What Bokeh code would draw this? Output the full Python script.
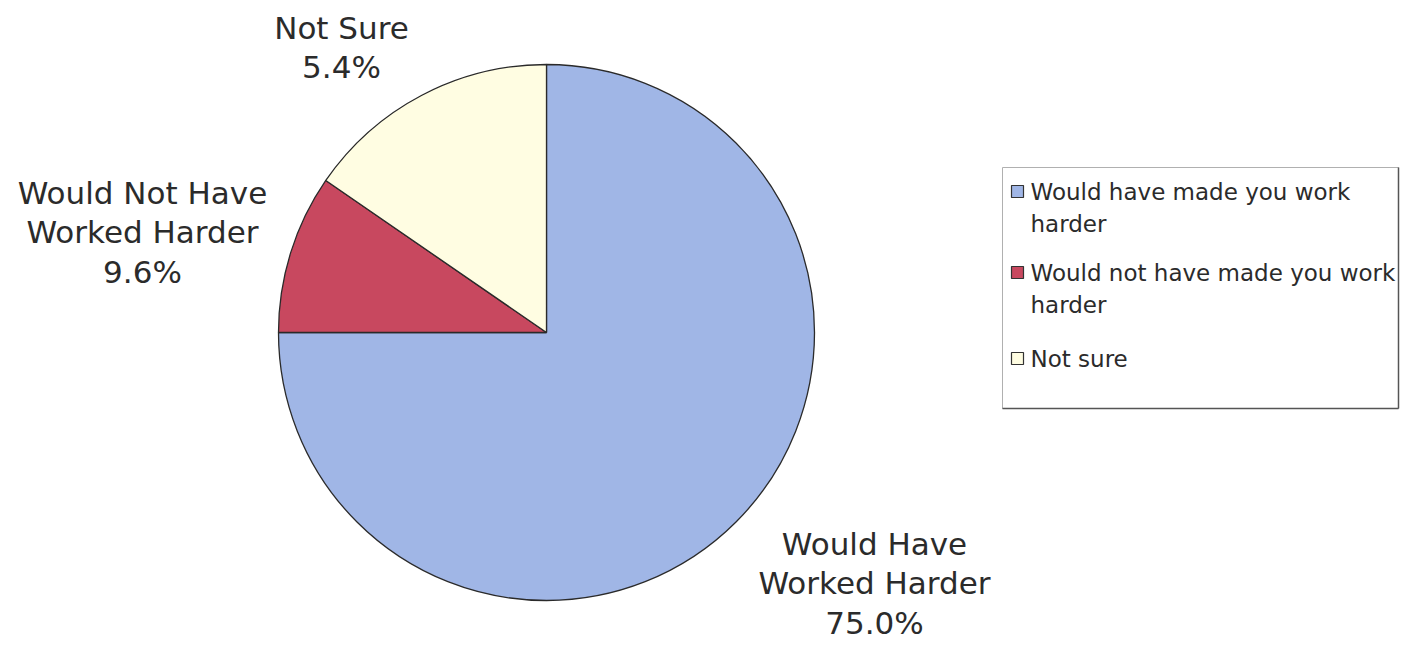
import math
import numpy as np
from bokeh.plotting import figure
from bokeh.models import Range1d, ColumnDataSource
from bokeh.core.properties import value
from bokeh.embed import file_html
from bokeh.resources import INLINE

# ---- data ----
slice_names = ["Would Have\nWorked Harder", "Would Not Have\nWorked Harder", "Not Sure"]
slice_pct = [75.0, 9.6, 15.4]          # slice sizes as drawn
label_pct = ["75.0%", "9.6%", "5.4%"]  # percentages as printed on the chart
legend_labels = ["Would have made you work\nharder",
                 "Would not have made you work\nharder",
                 "Not sure"]
colors = ["#A0B6E6", "#C8485F", "#FFFDE2"]

# ---- layout ----
W, H = 1400, 645
FONT = "DejaVu Sans"
TXT = "#2b2b2b"

def py(page_y):
    return H - page_y

def px(page_x):
    return page_x

p = figure(width=W, height=H, x_range=Range1d(0, W), y_range=Range1d(0, H),
           output_backend="svg", toolbar_location=None, min_border=0,
           x_axis_type=None, y_axis_type=None)
p.outline_line_color = None
p.grid.visible = False
p.background_fill_color = "white"
p.border_fill_color = "white"

# pie
cx, cy, r = px(546), py(332), 268
vals = np.array(slice_pct)
cum = np.cumsum(vals)
start = math.pi / 2 - 2 * math.pi * (cum - vals) / vals.sum()
end = math.pi / 2 - 2 * math.pi * cum / vals.sum()
src = ColumnDataSource(dict(start=start, end=end, color=colors))
p.wedge(x=cx, y=cy, radius=r, start_angle="start", end_angle="end",
        direction="clock", fill_color="color", line_color="#2a2a2a",
        line_width=1.3, source=src)

# slice labels
lab_x = [px(874), px(142), px(341)]
lab_y = [py(583), py(232), py(47)]
lab_text = [n + "\n" + v for n, v in zip(slice_names, label_pct)]
p.text(x=lab_x, y=lab_y, text=lab_text, text_font=value(FONT),
       text_font_size="31px", text_align="center", text_baseline="middle",
       text_line_height=1.1, text_color=TXT)

# legend box
bx0, bx1, by0, by1 = px(1002), px(1398), py(167), py(408)
p.quad(left=bx0, right=bx1, bottom=by1, top=by0, fill_color="white",
       line_color="#b0b0b0", line_width=1)
p.segment(x0=[bx1, bx0], y0=[by0, by1], x1=[bx1, bx1], y1=[by1, by1],
          line_color="#555555", line_width=1.5)

first_line = [191, 272, 358]
mk_y = [py(v) for v in first_line]
p.scatter(x=[px(1017)] * 3, y=mk_y, marker="square", size=12,
          fill_color=colors, line_color="#333333", line_width=1.2)
p.text(x=[px(1030)] * 3, y=[py(v - 13) for v in first_line], text=legend_labels,
       text_font=value(FONT), text_font_size="23px", text_align="left",
       text_baseline="top", text_line_height=1.24, text_color=TXT)

open("out.html", "w").write(file_html(p, INLINE))
